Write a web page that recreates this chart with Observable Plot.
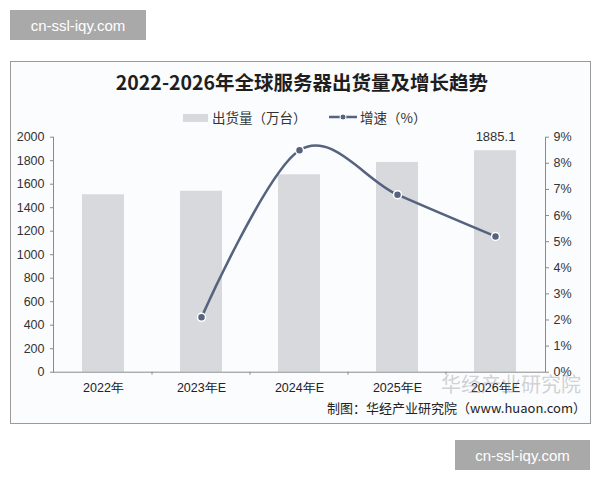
<!DOCTYPE html>
<html>
<head>
<meta charset="utf-8">
<script src="https://cdn.jsdelivr.net/npm/d3@7"></script>
<script src="https://cdn.jsdelivr.net/npm/@observablehq/plot@0.6"></script>
<style>
  body { margin: 0; width: 600px; height: 480px; background: #ffffff; position: relative; overflow: hidden; font-family: "Noto Sans CJK SC", "Liberation Sans", sans-serif; }
  .wm { position: absolute; background: #a9a9a9; color: #fff; font-family: "Liberation Sans", Arial, sans-serif; font-size: 15px; display: flex; align-items: center; justify-content: center; }
  #box { position: absolute; left: 10px; top: 61px; width: 579px; height: 361px; border: 1px solid #9a9a9a; background: #fbfcfe; }
  #title { position: absolute; left: 0; width: 604px; top: 67px; text-align: center; font-size: 19.5px; font-weight: 600; color: #1e1e1e; font-family: "Noto Sans CJK SC", sans-serif; }
  #legend { position: absolute; top: 107px; left: 0; width: 600px; height: 20px; font-size: 13.5px; color: #333; }
  #chart { position: absolute; left: 0; top: 125px; }
  #caption { position: absolute; right: 14px; top: 398px; font-size: 13px; color: #222; }
  #faint { position: absolute; left: 441px; top: 374px; font-size: 20px; line-height: 1; color: rgba(140,140,140,0.4); }
</style>
</head>
<body>
<div class="wm" style="left:10px;top:10px;width:136px;height:30px;">cn-ssl-iqy.com</div>
<div id="box"></div>
<div id="title"></div>
<div id="legend"></div>
<div id="chart"></div>
<div id="faint">华经产业研究院</div>
<div id="caption"></div>
<div class="wm" style="left:455px;top:440px;width:135px;height:30px;">cn-ssl-iqy.com</div>
<script>
const titleText = "2022-2026年全球服务器出货量及增长趋势";
const captionText = "制图：华经产业研究院（www.huaon.com）";
const seriesNames = ["出货量（万台）", "增速（%）"];
const years = ["2022年", "2023年E", "2024年E", "2025年E", "2026年E"];
const shipments = [1510, 1540, 1680, 1785, 1885.1];
const growthYears = ["2023年E", "2024年E", "2025年E", "2026年E"];
const growth = [2.1, 8.5, 6.8, 5.2];
const leftTicks = [0, 200, 400, 600, 800, 1000, 1200, 1400, 1600, 1800, 2000];
const rightTicks = [0, 1, 2, 3, 4, 5, 6, 7, 8, 9];
const labelYear = "2026年E";

const barColor = "#d8d9dc";
const lineColor = "#56637f";
const yMax = 2000, gMax = 9;
const toY = g => g * yMax / gMax;

document.getElementById("title").textContent = titleText;
document.getElementById("caption").textContent = captionText;

const legend = document.getElementById("legend");
legend.innerHTML = `
  <div style="position:absolute;left:183px;top:7px;width:25px;height:8px;background:${barColor}"></div>
  <div style="position:absolute;left:212px;top:0px;">${seriesNames[0]}</div>
  <svg style="position:absolute;left:328px;top:4px;" width="30" height="12"><line x1="1" y1="6" x2="29" y2="6" stroke="${lineColor}" stroke-width="2.5"/><circle cx="15" cy="6" r="3" fill="${lineColor}" stroke="white" stroke-width="1"/></svg>
  <div style="position:absolute;left:360px;top:0px;">${seriesNames[1]}</div>`;

const bars = years.map((y, i) => ({year: y, v: shipments[i]}));
const gdata = growthYears.map((y, i) => ({year: y, g: growth[i]}));

const chart = Plot.plot({
  width: 600,
  height: 275,
  marginLeft: 53,
  marginRight: 55,
  marginTop: 11.7,
  marginBottom: 28.3,
  style: {background: "transparent", fontFamily: "'Liberation Sans', Arial, sans-serif", fontSize: "12.5px", color: "#333"},
  x: {domain: years, paddingInner: 0.57, paddingOuter: 0.285, label: null},
  y: {domain: [0, yMax], label: null},
  marks: [
    Plot.barY(bars, {x: "year", y: "v", fill: barColor}),
    Plot.frame({anchor: "left", stroke: "#8a8a8a"}),
    Plot.frame({anchor: "right", stroke: "#8a8a8a"}),
    Plot.axisY(leftTicks, {anchor: "left", tickSize: 3, tickPadding: 6, stroke: "#8a8a8a", label: null, fill: "#333", tickFormat: d3.format("d")}),
    Plot.axisY(rightTicks.map(toY), {anchor: "right", tickSize: 3, tickPadding: 5, stroke: "#8a8a8a", label: null, fill: "#333", tickFormat: d => Math.round(d * gMax / yMax) + "%"}),
    Plot.axisX({tickSize: 0, tickPadding: 11, label: null, fill: "#222"}),
    Plot.ruleY([0], {stroke: "#8a8a8a"}),
    Plot.line(gdata, {x: "year", y: d => toY(d.g), curve: "cardinal", stroke: lineColor, strokeWidth: 2.6}),
    Plot.dot(gdata, {x: "year", y: d => toY(d.g), r: 4, fill: lineColor, stroke: "white", strokeWidth: 1.5}),
    Plot.text(bars.filter(d => d.year === labelYear), {x: "year", y: "v", text: d => d.v.toFixed(1), dy: -14, fontSize: 13, fill: "#333"})
  ]
});

// band-boundary tick marks on the x axis, from the library's own x scale
const xs = chart.scale("x");
const ys = chart.scale("y");
const y0 = ys.apply(0);
const svg = d3.select(chart);
const half = (xs.step - xs.bandwidth) / 2;
const bounds = years.slice(1).map(y => xs.apply(y) - half);
svg.append("g").selectAll("line").data(bounds).join("line")
  .attr("x1", d => d).attr("x2", d => d)
  .attr("y1", y0).attr("y2", y0 + 3)
  .attr("stroke", "#8a8a8a");

document.getElementById("chart").appendChild(chart);
</script>
</body>
</html>
